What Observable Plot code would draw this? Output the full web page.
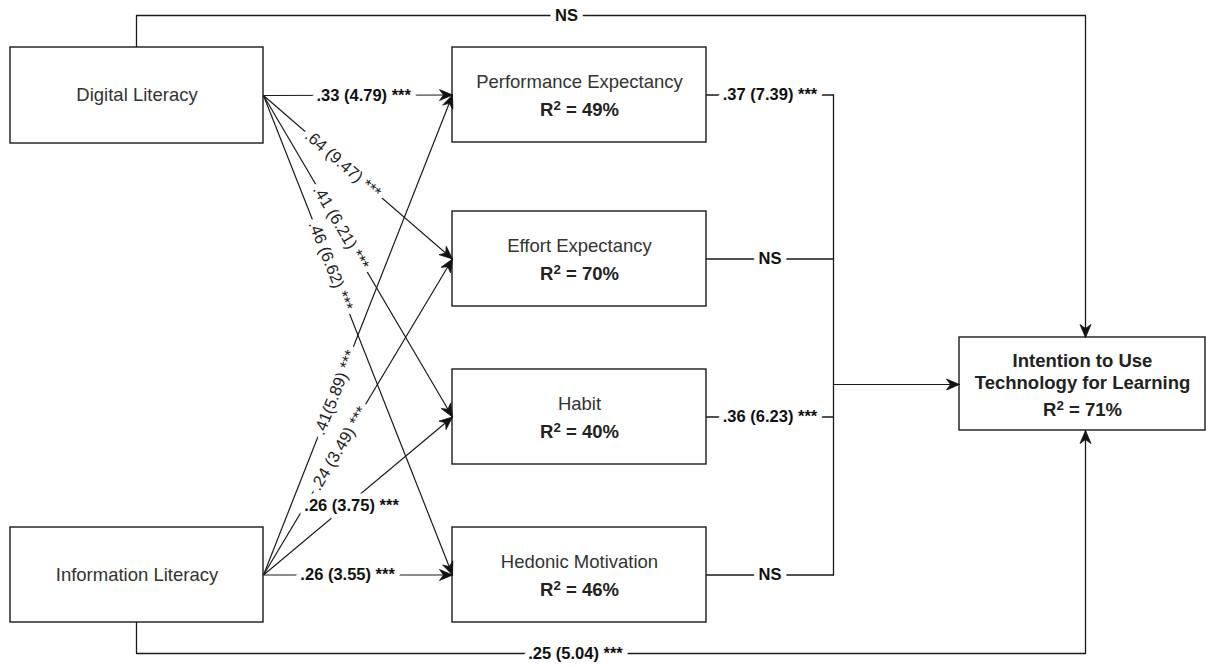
<!DOCTYPE html>
<html>
<head>
<meta charset="utf-8">
<script src="https://cdn.jsdelivr.net/npm/d3@7"></script>
<script src="https://cdn.jsdelivr.net/npm/@observablehq/plot@0.6"></script>
<style>
  html, body { margin: 0; padding: 0; background: #fff; }
  #chart svg { display: block; }
</style>
</head>
<body>
<div id="chart"></div>
<script>
// ---- data ----
const predictors = ["Digital Literacy", "Information Literacy"];
const mediators = ["Performance Expectancy", "Effort Expectancy", "Habit", "Hedonic Motivation"];
const mediatorR2 = ["49%", "70%", "40%", "46%"];
const outcomeLines = ["Intention to Use", "Technology for Learning"];
const outcomeR2 = "71%";
const digitalToMediator = [".33 (4.79) ***", ".64 (9.47) ***", ".41 (6.21) ***", ".46 (6.62) ***"];
const informationToMediator = [".41(5.89) ***", ".24 (3.49) ***", ".26 (3.75) ***", ".26 (3.55) ***"];
const mediatorToOutcome = [".37 (7.39) ***", "NS", ".36 (6.23) ***", "NS"];
const directToOutcome = ["NS", ".25 (5.04) ***"];

// ---- layout (diagram geometry, in pixel units of the identity scales) ----
const W = 1206, H = 666;
const predictorBoxes = [[10, 263, 47, 143], [10, 263, 527, 622]];
const mediatorBoxes = [[452, 706, 47, 142], [452, 706, 211, 306], [452, 706, 369, 464], [452, 706, 527, 622]];
const outcomeBox = [959, 1205, 337, 430];
const junctionX = 833, junctionY = 384;
const directTopY = 15, directBottomY = 653, directX = 1085, dropX = 136;
const digitalLabelPlace = [{t: 0.53, flat: true}, {t: 0.42}, {t: 0.41}, {t: 0.355}];
const informationLabelPlace = [{t: 0.38}, {t: 0.40}, {t: 0.466, flat: true, dy: 4}, {t: 0.445, flat: true}];
const directLabelX = [566, 575];

const cy = b => (b[2] + b[3]) / 2;
const ink = "#1a1a1a";
const font = "'Liberation Sans', Arial, Helvetica, sans-serif";

// boxes
const boxes = [...predictorBoxes, ...mediatorBoxes, outcomeBox].map(b => ({x1: b[0], x2: b[1], y1: b[2], y2: b[3]}));

// straight edges predictor -> mediator
const links = [];
const flatLabels = [], tiltLabels = [];
const heads = [];
function head(id, x0, y0, x1, y1) {
  const dx = x1 - x0, dy = y1 - y0, len = Math.hypot(dx, dy);
  const ux = dx / len, uy = dy / len, nx = -uy, ny = ux;
  const L = 13, Wd = 5.5, N = 9;
  return [[x1, y1], [x1 - L * ux + Wd * nx, y1 - L * uy + Wd * ny], [x1 - N * ux, y1 - N * uy],
          [x1 - L * ux - Wd * nx, y1 - L * uy - Wd * ny], [x1, y1]].map(([x, y]) => ({id, x, y}));
}
[digitalToMediator, informationToMediator].forEach((labels, p) => {
  const pb = predictorBoxes[p];
  const places = p === 0 ? digitalLabelPlace : informationLabelPlace;
  labels.forEach((lab, m) => {
    const mb = mediatorBoxes[m];
    const x1 = pb[1], y1 = cy(pb), x2 = mb[0], y2 = cy(mb);
    links.push({x1, y1, x2, y2});
    heads.push(...head(`pm${p}${m}`, x1, y1, x2, y2));
    const pl = places[m];
    const lx = x1 + (x2 - x1) * pl.t, ly = y1 + (y2 - y1) * pl.t + (pl.dy || 0);
    if (pl.flat) flatLabels.push({x: lx, y: ly, text: lab});
    else tiltLabels.push({x: lx, y: ly, text: lab, rotate: Math.atan2(y2 - y1, x2 - x1) * 180 / Math.PI});
  });
});

// mediator -> junction polylines
const polys = [];
mediatorToOutcome.forEach((lab, m) => {
  const mb = mediatorBoxes[m];
  polys.push({id: `mo${m}`, x: mb[1], y: cy(mb)}, {id: `mo${m}`, x: junctionX, y: cy(mb)});
  flatLabels.push({x: (mb[1] + junctionX) / 2, y: cy(mb), text: lab});
});
polys.push({id: "trunk", x: junctionX, y: cy(mediatorBoxes[0])}, {id: "trunk", x: junctionX, y: cy(mediatorBoxes[3])});
links.push({x1: junctionX, y1: junctionY, x2: outcomeBox[0], y2: junctionY});
heads.push(...head("jo", junctionX, junctionY, outcomeBox[0], junctionY));

// direct paths
const topPath = [[dropX, predictorBoxes[0][2]], [dropX, directTopY], [directX, directTopY], [directX, outcomeBox[2]]];
const botPath = [[dropX, predictorBoxes[1][3]], [dropX, directBottomY], [directX, directBottomY], [directX, outcomeBox[3]]];
topPath.forEach(([x, y]) => polys.push({id: "top", x, y}));
botPath.forEach(([x, y]) => polys.push({id: "bot", x, y}));
heads.push(...head("topH", directX, directTopY, directX, outcomeBox[2]));
heads.push(...head("botH", directX, directBottomY, directX, outcomeBox[3]));
flatLabels.push({x: directLabelX[0], y: directTopY, text: directToOutcome[0]});
flatLabels.push({x: directLabelX[1], y: directBottomY, text: directToOutcome[1]});

// node texts
const nodeNames = [
  ...predictors.map((t, i) => ({x: (predictorBoxes[i][0] + predictorBoxes[i][1]) / 2, y: cy(predictorBoxes[i]), text: t})),
  ...mediators.map((t, i) => ({x: (mediatorBoxes[i][0] + mediatorBoxes[i][1]) / 2, y: cy(mediatorBoxes[i]) - 13, text: t}))
];
const r2Texts = mediatorR2.map((r, i) => ({x: (mediatorBoxes[i][0] + mediatorBoxes[i][1]) / 2, y: cy(mediatorBoxes[i]) + 15, text: `R² = ${r}`}));
const ocx = (outcomeBox[0] + outcomeBox[1]) / 2, ocy = cy(outcomeBox);
const outcomeTexts = [
  {x: ocx, y: ocy - 23, text: outcomeLines[0]},
  {x: ocx, y: ocy - 1, text: outcomeLines[1]},
  {x: ocx, y: ocy + 26, text: `R² = ${outcomeR2}`}
];

const chart = Plot.plot({
  width: W, height: H, margin: 0,
  x: {domain: [0, W], range: [0, W], axis: null},
  y: {domain: [0, H], range: [0, H], axis: null},
  style: {fontFamily: font, background: "#fff"},
  marks: [
    Plot.line(polys, {x: "x", y: "y", z: "id", stroke: ink, strokeWidth: 1.3, curve: "linear"}),
    Plot.link(links, {x1: "x1", y1: "y1", x2: "x2", y2: "y2", stroke: ink, strokeWidth: 1.2}),
    Plot.rect(boxes, {x1: "x1", x2: "x2", y1: "y1", y2: "y2", fill: "#fff", stroke: ink, strokeWidth: 1.4}),
    Plot.line(heads, {x: "x", y: "y", z: "id", fill: "#111", stroke: "#111", strokeWidth: 0.8, curve: "linear"}),
    Plot.text(tiltLabels, {x: "x", y: "y", text: "text", rotate: "rotate", fontSize: 16.5, fill: "#222", stroke: "#fff", strokeWidth: 11, strokeLinejoin: "round"}),
    Plot.text(flatLabels, {x: "x", y: "y", text: "text", fontSize: 16.5, fontWeight: "bold", fill: "#111", stroke: "#fff", strokeWidth: 11, strokeLinejoin: "round"}),
    Plot.text(nodeNames, {x: "x", y: "y", text: "text", fontSize: 18.5, fill: "#333"}),
    Plot.text(r2Texts, {x: "x", y: "y", text: "text", fontSize: 18.5, fontWeight: "bold", fill: "#222"}),
    Plot.text(outcomeTexts, {x: "x", y: "y", text: "text", fontSize: 18.5, fontWeight: "bold", fill: "#222"})
  ]
});
// render the R² superscript as a raised, smaller "2" (still real text)
d3.select(chart).selectAll("text").each(function () {
  const t = this.textContent;
  if (!t.startsWith("R²")) return;
  const el = d3.select(this);
  el.text(null);
  el.append("tspan").text("R");
  el.append("tspan").attr("dy", "-0.45em").attr("font-size", "0.72em").text("2");
  el.append("tspan").attr("dy", "0.32em").text(t.slice(2));
});
document.getElementById("chart").appendChild(chart);
</script>
</body>
</html>
